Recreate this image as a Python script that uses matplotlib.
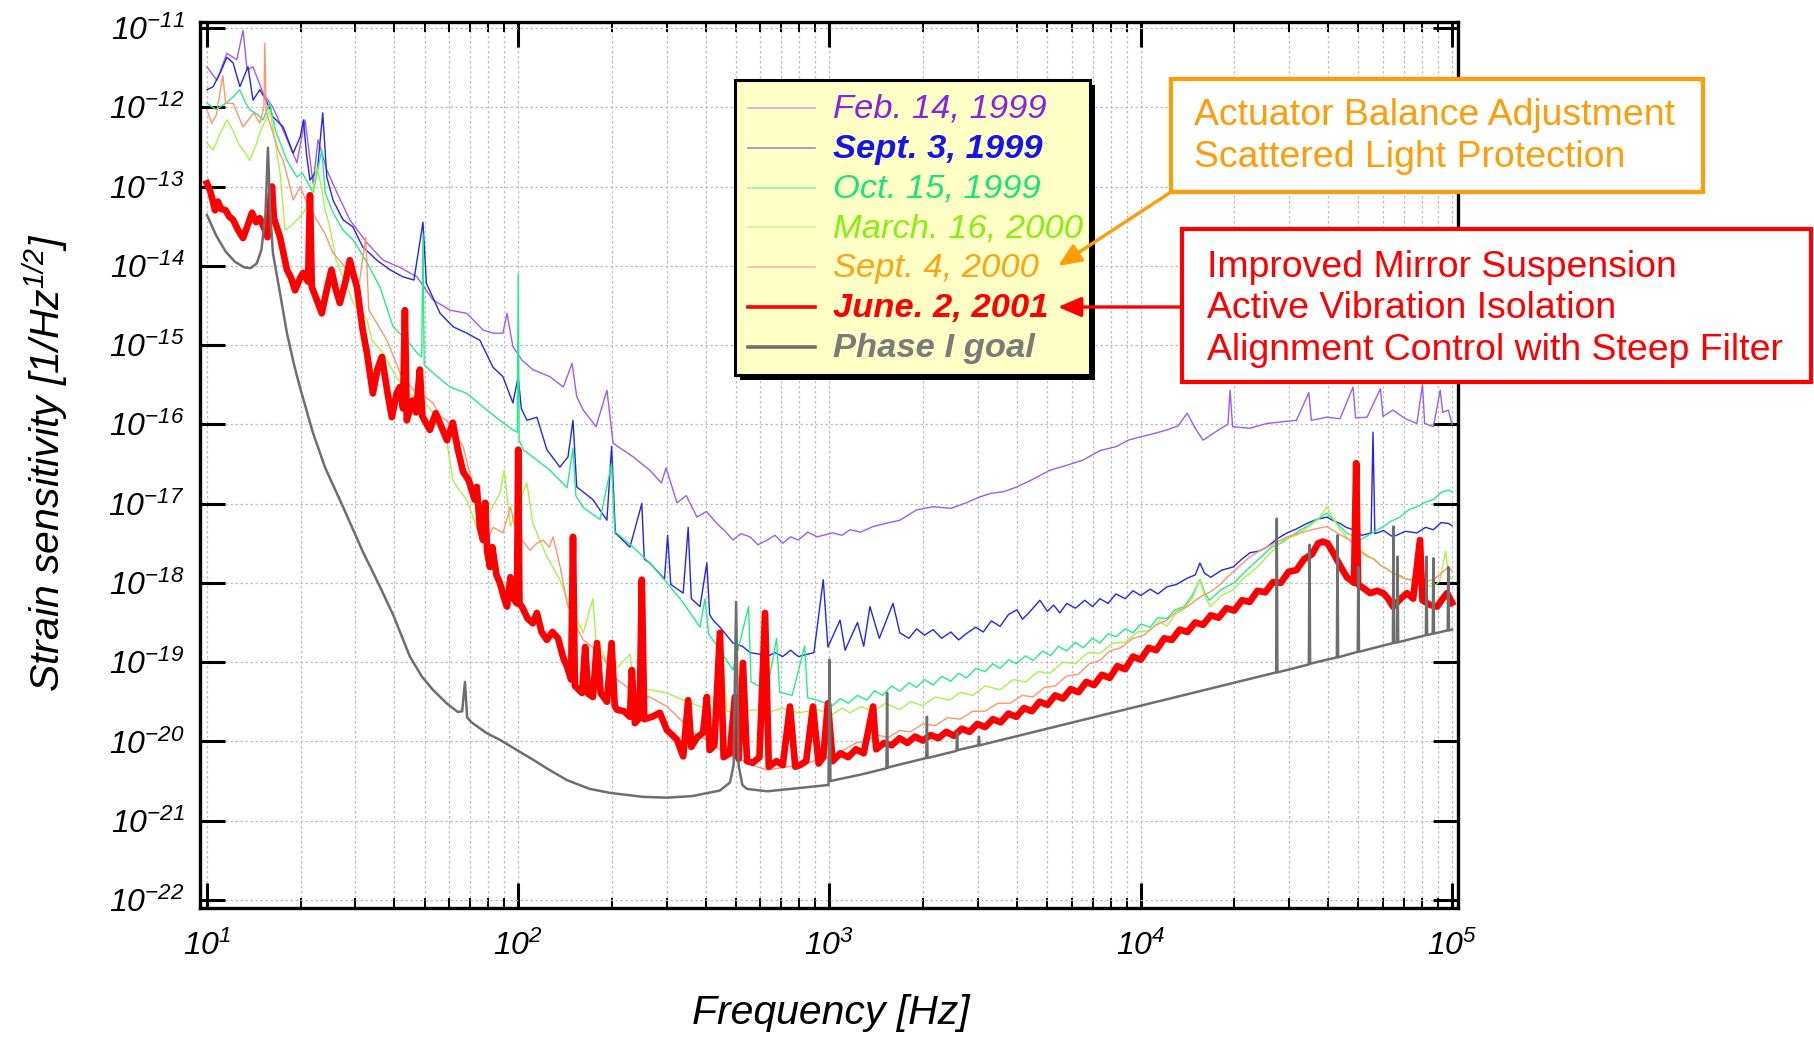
import numpy as np
import matplotlib
matplotlib.use("Agg")
import matplotlib.pyplot as plt
from matplotlib.ticker import FixedLocator, FuncFormatter, NullLocator, NullFormatter
from matplotlib.patches import Rectangle, FancyArrowPatch
from matplotlib.lines import Line2D

# ---------------- data (log10 frequency [Hz], log10 strain [1/Hz^1/2]) ----------------
feb1999 = [
    (1.000, -11.49), (1.032, -11.66), (1.064, -11.32), (1.096, -11.40), (1.116, -11.03),
    (1.129, -11.53), (1.148, -11.49), (1.180, -11.82), (1.212, -12.00), (1.245, -12.29),
    (1.289, -12.70), (1.315, -12.16), (1.341, -12.96), (1.357, -12.41), (1.385, -12.79),
    (1.418, -13.08), (1.459, -13.42), (1.514, -13.71), (1.566, -13.93), (1.620, -14.02),
    (1.675, -14.14), (1.726, -14.43), (1.781, -14.56), (1.835, -14.60), (1.887, -14.81),
    (1.919, -14.85), (1.951, -14.85), (1.964, -14.60), (1.983, -15.02), (2.012, -15.19),
    (2.047, -15.31), (2.102, -15.40), (2.145, -15.53), (2.173, -15.23), (2.188, -15.65),
    (2.209, -15.82), (2.250, -16.03), (2.285, -15.57), (2.305, -16.24), (2.369, -16.41),
    (2.423, -16.58), (2.460, -16.74), (2.475, -16.55), (2.510, -16.99), (2.540, -16.90),
    (2.574, -17.17), (2.605, -17.10), (2.638, -17.25), (2.665, -17.35), (2.690, -17.46),
    (2.715, -17.38), (2.745, -17.42), (2.770, -17.52), (2.800, -17.46), (2.825, -17.40),
    (2.850, -17.50), (2.875, -17.42), (2.900, -17.46), (2.930, -17.36), (2.960, -17.42),
    (3.010, -17.37), (3.040, -17.40), (3.066, -17.33), (3.100, -17.36), (3.140, -17.29),
    (3.180, -17.25), (3.226, -17.21), (3.280, -17.08), (3.333, -17.04), (3.390, -17.06),
    (3.440, -16.99), (3.480, -16.92), (3.520, -16.87), (3.560, -16.85), (3.602, -16.79),
    (3.650, -16.70), (3.708, -16.58), (3.760, -16.52), (3.815, -16.45), (3.870, -16.33),
    (3.922, -16.28), (3.960, -16.20), (3.997, -16.16), (4.040, -16.12), (4.084, -16.07),
    (4.120, -16.02), (4.149, -15.86), (4.175, -16.05), (4.200, -16.20), (4.250, -16.07),
    (4.280, -16.00), (4.287, -15.57), (4.295, -16.03), (4.350, -16.05), (4.405, -15.99),
    (4.450, -15.97), (4.500, -15.95), (4.540, -15.60), (4.548, -15.95), (4.598, -15.91),
    (4.640, -15.93), (4.682, -15.53), (4.690, -15.92), (4.727, -15.91), (4.770, -15.55),
    (4.778, -15.90), (4.810, -15.82), (4.850, -15.93), (4.887, -15.99), (4.905, -15.50),
    (4.912, -15.99), (4.940, -16.03), (4.962, -15.57), (4.970, -15.85), (4.988, -15.82),
    (5.000, -16.00),
]

sep1999 = [
    (1.000, -11.78), (1.020, -11.74), (1.042, -11.57), (1.064, -11.37), (1.084, -11.44),
    (1.106, -11.74), (1.132, -11.49), (1.148, -11.91), (1.170, -11.78), (1.190, -11.91),
    (1.212, -12.12), (1.245, -12.25), (1.277, -12.58), (1.300, -12.37), (1.310, -12.16),
    (1.320, -12.60), (1.331, -12.92), (1.355, -12.79), (1.372, -12.07), (1.385, -12.88),
    (1.405, -13.17), (1.437, -13.42), (1.469, -13.51), (1.500, -13.76), (1.546, -13.93),
    (1.588, -14.05), (1.630, -14.14), (1.665, -14.18), (1.694, -13.45), (1.705, -14.22),
    (1.749, -14.60), (1.791, -14.77), (1.835, -14.85), (1.877, -14.94), (1.919, -15.28),
    (1.951, -15.40), (1.983, -15.73), (2.000, -15.40), (2.010, -15.80), (2.028, -15.95),
    (2.060, -15.91), (2.092, -16.32), (2.134, -16.54), (2.160, -16.41), (2.176, -15.95),
    (2.188, -16.79), (2.240, -16.95), (2.285, -17.21), (2.300, -16.28), (2.312, -17.37),
    (2.359, -17.55), (2.397, -17.00), (2.405, -17.70), (2.423, -17.75), (2.470, -17.95),
    (2.480, -17.40), (2.490, -18.02), (2.530, -18.13), (2.546, -17.30), (2.556, -18.20),
    (2.584, -18.30), (2.606, -17.75), (2.615, -18.40), (2.626, -18.47), (2.648, -18.56),
    (2.690, -18.76), (2.720, -18.80), (2.745, -18.88), (2.775, -18.90), (2.800, -18.93),
    (2.825, -18.88), (2.850, -18.93), (2.875, -18.85), (2.900, -18.93), (2.950, -18.88),
    (2.980, -17.96), (2.995, -18.81), (3.034, -18.47), (3.050, -18.85), (3.090, -18.50),
    (3.110, -18.80), (3.130, -18.30), (3.160, -18.70), (3.204, -18.26), (3.226, -18.63),
    (3.255, -18.70), (3.280, -18.58), (3.305, -18.66), (3.333, -18.59), (3.360, -18.70),
    (3.390, -18.62), (3.415, -18.72), (3.440, -18.64), (3.470, -18.56), (3.494, -18.62),
    (3.520, -18.48), (3.548, -18.55), (3.575, -18.40), (3.602, -18.34), (3.620, -18.46),
    (3.640, -18.38), (3.676, -18.22), (3.700, -18.36), (3.720, -18.28), (3.740, -18.38),
    (3.762, -18.26), (3.790, -18.32), (3.820, -18.22), (3.845, -18.30), (3.869, -18.20),
    (3.895, -18.26), (3.920, -18.14), (3.950, -18.20), (3.975, -18.10), (4.000, -18.16),
    (4.030, -18.08), (4.055, -18.14), (4.084, -18.05), (4.115, -18.02), (4.150, -17.94),
    (4.175, -17.90), (4.190, -17.75), (4.205, -17.88), (4.225, -17.93), (4.260, -17.84),
    (4.297, -17.80), (4.325, -17.70), (4.351, -17.62), (4.380, -17.60), (4.405, -17.55),
    (4.440, -17.44), (4.470, -17.37), (4.500, -17.32), (4.534, -17.25), (4.565, -17.20),
    (4.598, -17.17), (4.620, -17.22), (4.640, -17.25), (4.660, -17.30), (4.682, -17.33),
    (4.710, -17.40), (4.740, -17.37), (4.746, -16.10), (4.752, -17.38), (4.780, -17.34),
    (4.810, -17.42), (4.850, -17.35), (4.887, -17.37), (4.915, -17.30), (4.940, -17.33),
    (4.965, -17.24), (4.988, -17.25), (5.000, -17.28),
]

oct1999 = [
    (1.000, -11.95), (1.030, -12.03), (1.060, -11.95), (1.084, -11.87), (1.105, -11.78),
    (1.125, -11.95), (1.138, -12.03), (1.165, -12.10), (1.180, -12.16), (1.202, -11.95),
    (1.220, -12.29), (1.257, -12.67), (1.289, -12.88), (1.307, -12.83), (1.341, -13.08),
    (1.369, -12.54), (1.380, -13.08), (1.405, -13.33), (1.437, -13.55), (1.469, -13.67),
    (1.490, -13.80), (1.514, -13.96), (1.556, -14.27), (1.598, -14.77), (1.643, -14.94),
    (1.675, -15.10), (1.690, -15.15), (1.694, -13.60), (1.698, -15.25), (1.726, -15.35),
    (1.781, -15.53), (1.835, -15.61), (1.887, -15.78), (1.941, -15.95), (1.983, -16.07),
    (1.997, -16.10), (2.000, -14.10), (2.003, -16.20), (2.016, -16.32), (2.060, -16.45),
    (2.102, -16.58), (2.157, -16.80), (2.176, -16.30), (2.185, -16.90), (2.209, -17.05),
    (2.263, -17.20), (2.300, -16.50), (2.310, -17.35), (2.369, -17.55), (2.423, -17.75),
    (2.478, -18.00), (2.530, -18.25), (2.584, -18.56), (2.600, -18.20), (2.612, -18.65),
    (2.640, -18.80), (2.690, -19.10), (2.740, -18.30), (2.748, -19.25), (2.800, -19.35),
    (2.830, -18.70), (2.840, -19.38), (2.880, -19.42), (2.920, -18.80), (2.930, -19.45),
    (2.960, -19.48), (3.010, -19.55), (3.035, -19.46), (3.060, -19.52), (3.090, -19.42),
    (3.120, -19.48), (3.145, -19.36), (3.170, -19.42), (3.200, -19.30), (3.226, -19.37),
    (3.255, -19.26), (3.280, -19.32), (3.305, -19.22), (3.333, -19.29), (3.360, -19.18),
    (3.390, -19.24), (3.415, -19.14), (3.440, -19.20), (3.470, -19.08), (3.500, -19.12),
    (3.525, -19.02), (3.548, -19.08), (3.575, -18.97), (3.600, -19.02), (3.630, -18.92),
    (3.654, -18.98), (3.685, -18.86), (3.710, -18.92), (3.735, -18.80), (3.762, -18.86),
    (3.790, -18.75), (3.815, -18.82), (3.845, -18.70), (3.869, -18.76), (3.895, -18.64),
    (3.920, -18.68), (3.950, -18.58), (3.975, -18.63), (4.000, -18.52), (4.030, -18.56),
    (4.055, -18.44), (4.084, -18.45), (4.110, -18.34), (4.140, -18.30), (4.165, -18.16),
    (4.190, -17.96), (4.205, -18.12), (4.220, -18.22), (4.260, -18.08), (4.300, -18.00),
    (4.325, -17.90), (4.351, -17.80), (4.390, -17.66), (4.420, -17.55), (4.450, -17.50),
    (4.480, -17.42), (4.510, -17.34), (4.534, -17.29), (4.565, -17.20), (4.598, -17.12),
    (4.630, -17.25), (4.662, -17.37), (4.704, -17.46), (4.740, -17.38), (4.779, -17.29),
    (4.805, -17.22), (4.833, -17.17), (4.860, -17.08), (4.887, -17.04), (4.915, -16.98),
    (4.940, -16.95), (4.965, -16.86), (4.988, -16.83), (5.000, -16.85),
]

mar2000 = [
    (1.000, -12.45), (1.020, -12.54), (1.040, -12.35), (1.064, -12.16), (1.085, -12.30),
    (1.100, -12.45), (1.116, -12.54), (1.138, -12.67), (1.160, -12.45), (1.170, -12.32),
    (1.190, -12.15), (1.202, -12.03), (1.220, -12.45), (1.235, -12.83), (1.251, -13.55),
    (1.270, -13.50), (1.289, -13.42), (1.307, -13.35), (1.320, -13.26), (1.340, -13.05),
    (1.353, -12.75), (1.365, -12.95), (1.380, -13.30), (1.395, -13.51), (1.415, -13.93),
    (1.450, -14.27), (1.470, -14.47), (1.514, -14.68), (1.530, -14.94), (1.566, -15.10),
    (1.590, -15.28), (1.643, -15.61), (1.690, -15.69), (1.749, -15.95), (1.770, -16.20),
    (1.790, -16.70), (1.810, -16.83), (1.835, -16.95), (1.877, -17.42), (1.900, -17.17),
    (1.941, -16.87), (1.955, -16.58), (1.975, -17.29), (2.000, -17.00), (2.028, -16.74),
    (2.047, -17.25), (2.092, -17.67), (2.134, -17.96), (2.166, -18.30), (2.209, -18.63),
    (2.240, -18.20), (2.250, -18.75), (2.263, -18.81), (2.300, -19.14), (2.360, -18.90),
    (2.370, -19.31), (2.423, -19.35), (2.478, -19.39), (2.530, -19.48), (2.584, -19.56),
    (2.630, -19.60), (2.660, -19.10), (2.670, -19.62), (2.700, -19.64), (2.760, -19.60),
    (2.800, -19.64), (2.850, -19.58), (2.900, -19.64), (2.960, -19.60), (3.010, -19.66),
    (3.040, -19.58), (3.066, -19.64), (3.100, -19.56), (3.140, -19.62), (3.180, -19.52),
    (3.226, -19.60), (3.260, -19.50), (3.300, -19.55), (3.340, -19.44), (3.387, -19.48),
    (3.420, -19.38), (3.460, -19.42), (3.500, -19.30), (3.548, -19.35), (3.590, -19.22),
    (3.630, -19.25), (3.670, -19.12), (3.708, -19.14), (3.750, -19.00), (3.790, -19.02),
    (3.830, -18.88), (3.869, -18.89), (3.910, -18.76), (3.950, -18.75), (3.990, -18.62),
    (4.030, -18.60), (4.060, -18.48), (4.084, -18.55), (4.110, -18.40), (4.136, -18.34),
    (4.165, -18.20), (4.190, -17.96), (4.205, -18.16), (4.223, -18.30), (4.260, -18.16),
    (4.300, -18.08), (4.325, -17.96), (4.351, -17.88), (4.380, -17.78), (4.410, -17.65),
    (4.435, -17.55), (4.457, -17.46), (4.500, -17.40), (4.540, -17.29), (4.570, -17.20),
    (4.598, -17.04), (4.620, -17.20), (4.640, -17.33), (4.670, -17.46), (4.704, -17.59),
    (4.740, -17.68), (4.779, -17.80), (4.805, -17.86), (4.833, -17.93), (4.860, -17.96),
    (4.887, -18.00), (4.915, -18.03), (4.940, -18.05), (4.960, -17.98), (4.980, -17.60),
    (4.988, -17.93), (5.000, -17.95),
]

sep2000 = [
    (1.000, -12.03), (1.015, -12.20), (1.030, -12.10), (1.051, -11.60), (1.060, -11.95),
    (1.084, -11.95), (1.100, -12.10), (1.116, -12.25), (1.135, -12.15), (1.150, -12.07),
    (1.170, -12.20), (1.183, -12.00), (1.186, -11.19), (1.190, -12.05), (1.210, -12.30),
    (1.230, -12.55), (1.245, -12.67), (1.260, -12.90), (1.277, -13.17), (1.300, -13.00),
    (1.320, -13.20), (1.353, -13.42), (1.380, -13.60), (1.405, -13.84), (1.430, -13.95),
    (1.459, -14.09), (1.490, -14.20), (1.510, -13.64), (1.520, -14.56), (1.550, -14.75),
    (1.578, -14.94), (1.600, -15.15), (1.620, -15.35), (1.650, -15.50), (1.675, -15.61),
    (1.700, -15.65), (1.726, -15.73), (1.750, -15.90), (1.771, -15.95), (1.800, -16.15),
    (1.823, -16.28), (1.850, -16.70), (1.870, -16.90), (1.887, -17.12), (1.900, -17.46),
    (1.920, -17.30), (1.951, -17.37), (1.975, -17.04), (1.990, -17.30), (2.010, -17.45),
    (2.038, -17.59), (2.060, -17.50), (2.080, -17.46), (2.100, -17.55), (2.112, -17.42),
    (2.135, -17.80), (2.157, -18.26), (2.180, -18.50), (2.209, -18.72), (2.235, -18.80),
    (2.263, -18.89), (2.290, -19.05), (2.317, -19.22), (2.345, -19.30), (2.369, -19.39),
    (2.395, -19.42), (2.423, -19.44), (2.450, -19.50), (2.478, -19.56), (2.520, -19.72),
    (2.561, -19.89), (2.590, -19.95), (2.626, -20.02), (2.660, -20.15), (2.700, -20.20),
    (2.750, -20.30), (2.800, -20.36), (2.850, -20.33), (2.900, -20.30), (2.950, -20.25),
    (3.000, -20.20), (3.050, -20.10), (3.085, -20.02), (3.120, -20.00), (3.150, -19.92),
    (3.190, -19.95), (3.226, -19.86), (3.260, -19.88), (3.300, -19.78), (3.340, -19.80),
    (3.380, -19.70), (3.420, -19.72), (3.460, -19.62), (3.500, -19.62), (3.540, -19.52),
    (3.580, -19.52), (3.620, -19.42), (3.654, -19.44), (3.690, -19.32), (3.725, -19.30),
    (3.760, -19.18), (3.800, -19.15), (3.835, -19.02), (3.869, -18.98), (3.900, -18.86),
    (3.935, -18.82), (3.975, -18.70), (4.010, -18.66), (4.045, -18.54), (4.084, -18.47),
    (4.115, -18.36), (4.150, -18.30), (4.190, -18.18), (4.230, -18.10), (4.255, -18.02),
    (4.280, -17.92), (4.300, -17.85), (4.325, -17.76), (4.351, -17.67), (4.390, -17.58),
    (4.430, -17.50), (4.470, -17.42), (4.512, -17.37), (4.560, -17.32), (4.598, -17.29),
    (4.635, -17.38), (4.672, -17.46), (4.700, -17.58), (4.727, -17.67), (4.750, -17.70),
    (4.770, -17.78), (4.790, -17.82), (4.810, -17.88), (4.830, -17.90), (4.850, -17.95),
    (4.870, -17.96), (4.887, -18.00), (4.915, -17.98), (4.940, -17.96), (4.965, -17.88),
    (4.988, -17.80), (5.000, -17.85),
]

jun2001 = [
    (1.000, -12.96), (1.010, -13.05), (1.020, -13.20), (1.026, -13.30), (1.035, -13.19),
    (1.045, -13.28), (1.060, -13.30), (1.072, -13.38), (1.084, -13.42), (1.100, -13.55),
    (1.116, -13.65), (1.130, -13.50), (1.145, -13.33), (1.158, -13.45), (1.170, -13.40),
    (1.180, -13.49), (1.195, -13.64), (1.205, -13.10), (1.209, -13.00), (1.215, -13.40),
    (1.235, -13.64), (1.257, -14.05), (1.270, -14.15), (1.283, -14.31), (1.300, -14.15),
    (1.309, -14.09), (1.325, -14.20), (1.331, -13.11), (1.337, -14.27), (1.350, -14.40),
    (1.369, -14.60), (1.385, -14.30), (1.400, -14.05), (1.414, -14.30), (1.427, -14.47),
    (1.445, -14.20), (1.459, -13.93), (1.470, -14.10), (1.482, -14.27), (1.500, -14.80),
    (1.514, -15.10), (1.533, -15.61), (1.548, -15.30), (1.562, -15.15), (1.580, -15.60),
    (1.594, -15.91), (1.610, -15.60), (1.620, -15.53), (1.630, -15.80), (1.636, -14.56),
    (1.642, -15.95), (1.660, -15.70), (1.672, -15.85), (1.684, -15.31), (1.692, -15.90),
    (1.716, -16.07), (1.735, -15.86), (1.755, -16.05), (1.771, -16.20), (1.790, -15.98),
    (1.805, -16.30), (1.823, -16.60), (1.840, -16.70), (1.860, -16.95), (1.867, -16.79),
    (1.877, -17.30), (1.887, -17.46), (1.894, -16.99), (1.900, -17.60), (1.909, -17.80),
    (1.917, -17.55), (1.930, -17.90), (1.941, -18.00), (1.955, -18.20), (1.964, -18.30),
    (1.975, -17.93), (1.985, -18.20), (1.996, -18.26), (2.000, -16.32), (2.004, -18.26),
    (2.012, -18.30), (2.030, -18.45), (2.047, -18.51), (2.060, -18.38), (2.075, -18.62),
    (2.092, -18.72), (2.110, -18.62), (2.128, -18.70), (2.145, -18.95), (2.157, -19.06),
    (2.170, -19.22), (2.176, -17.42), (2.182, -19.30), (2.205, -19.39), (2.215, -18.81),
    (2.225, -19.40), (2.240, -19.44), (2.253, -18.76), (2.265, -19.39), (2.285, -19.50),
    (2.300, -18.76), (2.310, -19.55), (2.317, -19.60), (2.340, -19.62), (2.359, -19.69),
    (2.365, -19.10), (2.375, -19.77), (2.390, -19.70), (2.397, -17.96), (2.405, -19.72),
    (2.430, -19.69), (2.455, -19.64), (2.478, -19.86), (2.495, -19.92), (2.510, -19.98),
    (2.530, -20.19), (2.546, -19.48), (2.556, -20.07), (2.575, -19.95), (2.594, -19.89),
    (2.606, -19.44), (2.615, -20.11), (2.630, -20.05), (2.648, -18.63), (2.660, -20.20),
    (2.680, -20.15), (2.696, -19.44), (2.708, -20.22), (2.722, -19.01), (2.735, -20.25),
    (2.754, -20.27), (2.775, -20.20), (2.793, -18.38), (2.805, -20.32), (2.830, -20.25),
    (2.850, -20.30), (2.873, -19.56), (2.890, -20.32), (2.905, -20.30), (2.925, -20.25),
    (2.947, -19.56), (2.965, -20.28), (2.980, -20.20), (2.995, -19.52), (3.010, -20.25),
    (3.035, -20.15), (3.060, -20.20), (3.085, -20.10), (3.110, -20.15), (3.140, -19.56),
    (3.150, -20.10), (3.175, -20.02), (3.200, -20.05), (3.225, -19.96), (3.250, -20.02),
    (3.275, -19.94), (3.300, -19.99), (3.325, -19.92), (3.350, -19.96), (3.375, -19.88),
    (3.400, -19.93), (3.425, -19.84), (3.450, -19.88), (3.475, -19.78), (3.500, -19.82),
    (3.525, -19.72), (3.550, -19.76), (3.575, -19.65), (3.600, -19.69), (3.625, -19.58),
    (3.650, -19.62), (3.675, -19.50), (3.700, -19.54), (3.725, -19.42), (3.750, -19.46),
    (3.775, -19.34), (3.800, -19.38), (3.825, -19.25), (3.850, -19.29), (3.875, -19.16),
    (3.900, -19.20), (3.925, -19.05), (3.950, -19.09), (3.975, -18.93), (4.000, -18.97),
    (4.025, -18.82), (4.050, -18.85), (4.075, -18.70), (4.100, -18.72), (4.125, -18.59),
    (4.150, -18.62), (4.175, -18.50), (4.200, -18.53), (4.225, -18.41), (4.250, -18.44),
    (4.275, -18.32), (4.300, -18.35), (4.325, -18.22), (4.350, -18.24), (4.375, -18.10),
    (4.400, -18.12), (4.425, -17.99), (4.450, -18.00), (4.475, -17.86), (4.500, -17.84),
    (4.525, -17.70), (4.550, -17.64), (4.570, -17.50), (4.585, -17.48), (4.600, -17.50),
    (4.618, -17.62), (4.640, -17.78), (4.662, -17.93), (4.685, -18.00), (4.692, -16.49),
    (4.698, -18.02), (4.720, -18.08), (4.737, -18.13), (4.760, -18.10), (4.779, -18.13),
    (4.795, -18.20), (4.810, -18.30), (4.835, -18.20), (4.855, -18.13), (4.875, -18.20),
    (4.897, -17.46), (4.905, -18.22), (4.930, -18.28), (4.952, -18.30), (4.970, -18.20),
    (4.984, -18.13), (5.000, -18.25),
]

phase1_goal = [
    (1.000, -13.36), (1.030, -13.62), (1.060, -13.82), (1.090, -13.95), (1.120, -14.02),
    (1.140, -14.03), (1.160, -13.97), (1.175, -13.80), (1.188, -13.35), (1.196, -12.51),
    (1.203, -13.30), (1.212, -13.84), (1.235, -14.35), (1.257, -14.85), (1.280, -15.25),
    (1.300, -15.55), (1.340, -16.10), (1.380, -16.55), (1.437, -17.04), (1.500, -17.60),
    (1.556, -18.05), (1.600, -18.42), (1.652, -18.93), (1.690, -19.18), (1.726, -19.35),
    (1.770, -19.52), (1.806, -19.63), (1.820, -19.62), (1.829, -19.25), (1.836, -19.70),
    (1.850, -19.76), (1.900, -19.90), (1.941, -19.98), (2.000, -20.12), (2.047, -20.23),
    (2.100, -20.36), (2.157, -20.49), (2.230, -20.60), (2.295, -20.65), (2.400, -20.70),
    (2.478, -20.71), (2.560, -20.69), (2.648, -20.62), (2.680, -20.52), (2.692, -20.30),
    (2.700, -18.24), (2.708, -20.30), (2.720, -20.55), (2.735, -20.60), (2.800, -20.63),
    (2.900, -20.59), (2.997, -20.55), (3.000, -18.97), (3.003, -20.50), (3.100, -20.42),
    (3.183, -20.34), (3.185, -19.39), (3.187, -20.33), (3.311, -20.21), (3.313, -19.69),
    (3.315, -20.21), (3.408, -20.12), (3.410, -19.89), (3.412, -20.11), (3.478, -20.05),
    (3.480, -19.94), (3.482, -20.05), (4.435, -19.13), (4.437, -17.19), (4.439, -19.13),
    (4.540, -19.03), (4.542, -17.52), (4.544, -19.02), (4.630, -18.94), (4.632, -17.40),
    (4.634, -18.94), (4.697, -18.87), (4.699, -17.80), (4.701, -18.87), (4.810, -18.76),
    (4.812, -17.29), (4.814, -18.76), (4.823, -18.75), (4.825, -17.67), (4.827, -18.75),
    (4.916, -18.66), (4.918, -17.67), (4.920, -18.66), (4.938, -18.64), (4.940, -17.69),
    (4.942, -18.64), (4.986, -18.60), (4.988, -17.80), (4.990, -18.60), (5.000, -18.59),
]

x_decades = [1, 2, 3, 4, 5]
y_decades = [-22, -21, -20, -19, -18, -17, -16, -15, -14, -13, -12, -11]

legend_labels = ["Feb. 14, 1999", "Sept. 3, 1999", "Oct. 15, 1999", "March. 16, 2000",
                 "Sept. 4, 2000", "June. 2, 2001", "Phase I goal"]
orange_note = ["Actuator Balance Adjustment", "Scattered Light Protection"]
red_note = ["Improved Mirror Suspension", "Active Vibration Isolation",
            "Alignment Control with Steep Filter"]

# ---------------- style ----------------
plt.rcParams.update({
    "font.family": ["Liberation Sans", "DejaVu Sans"],
    "mathtext.fontset": "custom",
    "mathtext.rm": "Liberation Sans:italic",
    "mathtext.it": "Liberation Sans:italic",
    "mathtext.bf": "Liberation Sans:bold:italic",
    "mathtext.default": "it",
})

W, H = 1814, 1039
fig = plt.figure(figsize=(W / 100, H / 100), dpi=100)
fig.patch.set_facecolor("white")


def fx(x):
    return x / W


def fy(y):
    return 1 - y / H


ax = fig.add_axes([fx(200), fy(908), (1458 - 200) / W, (908 - 22) / H])
ax.set_xscale("log")
ax.set_yscale("log")

series = [
    (feb1999, "#9D5CF0", 1.0, 2),
    (sep1999, "#2424EE", 1.0, 3),
    (oct1999, "#22EE88", 1.0, 4),
    (mar2000, "#A6F546", 1.0, 5),
    (sep2000, "#FF956A", 1.0, 6),
    (jun2001, "#FF0000", 4.8, 7),
    (phase1_goal, "#6E6E6E", 1.8, 8),
]
for pts, col, lw, z in series:
    arr = np.array(pts)
    ax.plot(10 ** arr[:, 0], 10 ** arr[:, 1], color=col, lw=lw, zorder=z)

ax.set_xlim(9.5, 1.045e5)
ax.set_ylim(7.9e-23, 1.19e-11)

fmt = FuncFormatter(lambda v, p: r"$10^{%d}$" % int(round(np.log10(v))))
x_major = [10.0 ** d for d in x_decades]
x_minor = [m * 10.0 ** d for d in x_decades[:-1] for m in range(2, 10)]
y_major = [10.0 ** d for d in y_decades]
ax.xaxis.set_major_locator(FixedLocator(x_major))
ax.xaxis.set_minor_locator(FixedLocator(x_minor))
ax.xaxis.set_minor_formatter(NullFormatter())
ax.xaxis.set_major_formatter(fmt)
ax.yaxis.set_major_locator(FixedLocator(y_major))
ax.yaxis.set_minor_locator(NullLocator())
ax.yaxis.set_major_formatter(fmt)

ax.tick_params(which="major", direction="in", length=18, width=2.2, top=True, right=True,
               labelsize=23)
ax.tick_params(which="minor", direction="in", length=7, width=1.4, top=True, right=True)
ax.tick_params(axis="y", pad=11)
ax.tick_params(axis="x", pad=16)
for s in ax.spines.values():
    s.set_linewidth(2.4)

ax.grid(True, which="major", axis="both", color="#BDBDBD", ls=(0, (2, 2)), lw=0.9, zorder=0)
ax.grid(True, which="minor", axis="x", color="#BDBDBD", ls=(0, (2, 2)), lw=0.9, zorder=0)
ax.set_axisbelow(True)

fig.text(fx(831), fy(1013), "Frequency [Hz]", ha="center", va="center", fontsize=29.5,
         style="italic")
fig.text(fx(46), fy(463), r"Strain sensitivity [1/Hz$^{1/2}$]", ha="center", va="center",
         fontsize=29.5, style="italic", rotation=90)

# ---------------- legend (drawn by hand) ----------------
lx0, lx1, ly0, ly1 = 735, 1090, 80, 375
fig.add_artist(Rectangle((fx(lx0 + 5), fy(ly1 + 5)), (lx1 - lx0) / W, (ly1 - ly0) / H,
                         transform=fig.transFigure, facecolor="black", edgecolor="none",
                         zorder=10))
fig.add_artist(Rectangle((fx(lx0), fy(ly1)), (lx1 - lx0) / W, (ly1 - ly0) / H,
                         transform=fig.transFigure, facecolor="#FFFFC6", edgecolor="black",
                         lw=2.2, zorder=11))
handle_cols = ["#C9A8EC", "#8C8CCC", "#96F0C4", "#CCF2A4", "#F8BBA4", "#FF0000", "#707070"]
handle_lws = [1.2, 1.2, 1.2, 1.2, 1.2, 2.6, 2.6]
text_cols = ["#8A22E2", "#1414EE", "#14E67C", "#86EE10", "#FFA214", "#FF0000", "#7A7A7A"]
text_wts = ["normal", "bold", "normal", "normal", "normal", "bold", "bold"]
for i, lab in enumerate(legend_labels):
    base = 118 + 39.8 * i
    fig.add_artist(Line2D([fx(748), fx(815)], [fy(base - 10), fy(base - 10)],
                          transform=fig.transFigure, color=handle_cols[i], lw=handle_lws[i],
                          zorder=12))
    fig.text(fx(833), fy(base), lab, ha="left", va="baseline", fontsize=24.8, style="italic",
             weight=text_wts[i], color=text_cols[i], zorder=12)

# ---------------- annotation boxes ----------------
ORANGE = "#FF9C08"
RED = "#FF0000"
fig.add_artist(Rectangle((fx(1171), fy(192)), (1703 - 1171) / W, (192 - 79) / H,
                         transform=fig.transFigure, facecolor="white", edgecolor=ORANGE,
                         lw=3, zorder=13))
for i, t in enumerate(orange_note):
    fig.text(fx(1194), fy(125 + 42 * i), t, ha="left", va="baseline", fontsize=26.9,
             color=ORANGE, zorder=14)
fig.add_artist(Rectangle((fx(1182), fy(382)), (1811 - 1182) / W, (382 - 229) / H,
                         transform=fig.transFigure, facecolor="white", edgecolor=RED,
                         lw=3, zorder=13))
for i, t in enumerate(red_note):
    fig.text(fx(1207), fy(277 + 41.5 * i), t, ha="left", va="baseline", fontsize=26.9,
             color=RED, zorder=14)

fig.add_artist(FancyArrowPatch((fx(1171), fy(192)), (fx(1058), fy(266)),
                               transform=fig.transFigure, arrowstyle="-|>,head_length=14,head_width=6",
                               mutation_scale=1, lw=2.4, color=ORANGE, shrinkA=0, shrinkB=0,
                               zorder=15))
fig.add_artist(FancyArrowPatch((fx(1182), fy(307)), (fx(1058), fy(307)),
                               transform=fig.transFigure, arrowstyle="-|>,head_length=14,head_width=6",
                               mutation_scale=1, lw=2.4, color=RED, shrinkA=0, shrinkB=0,
                               zorder=15))

fig.savefig("out.png", dpi=100)
